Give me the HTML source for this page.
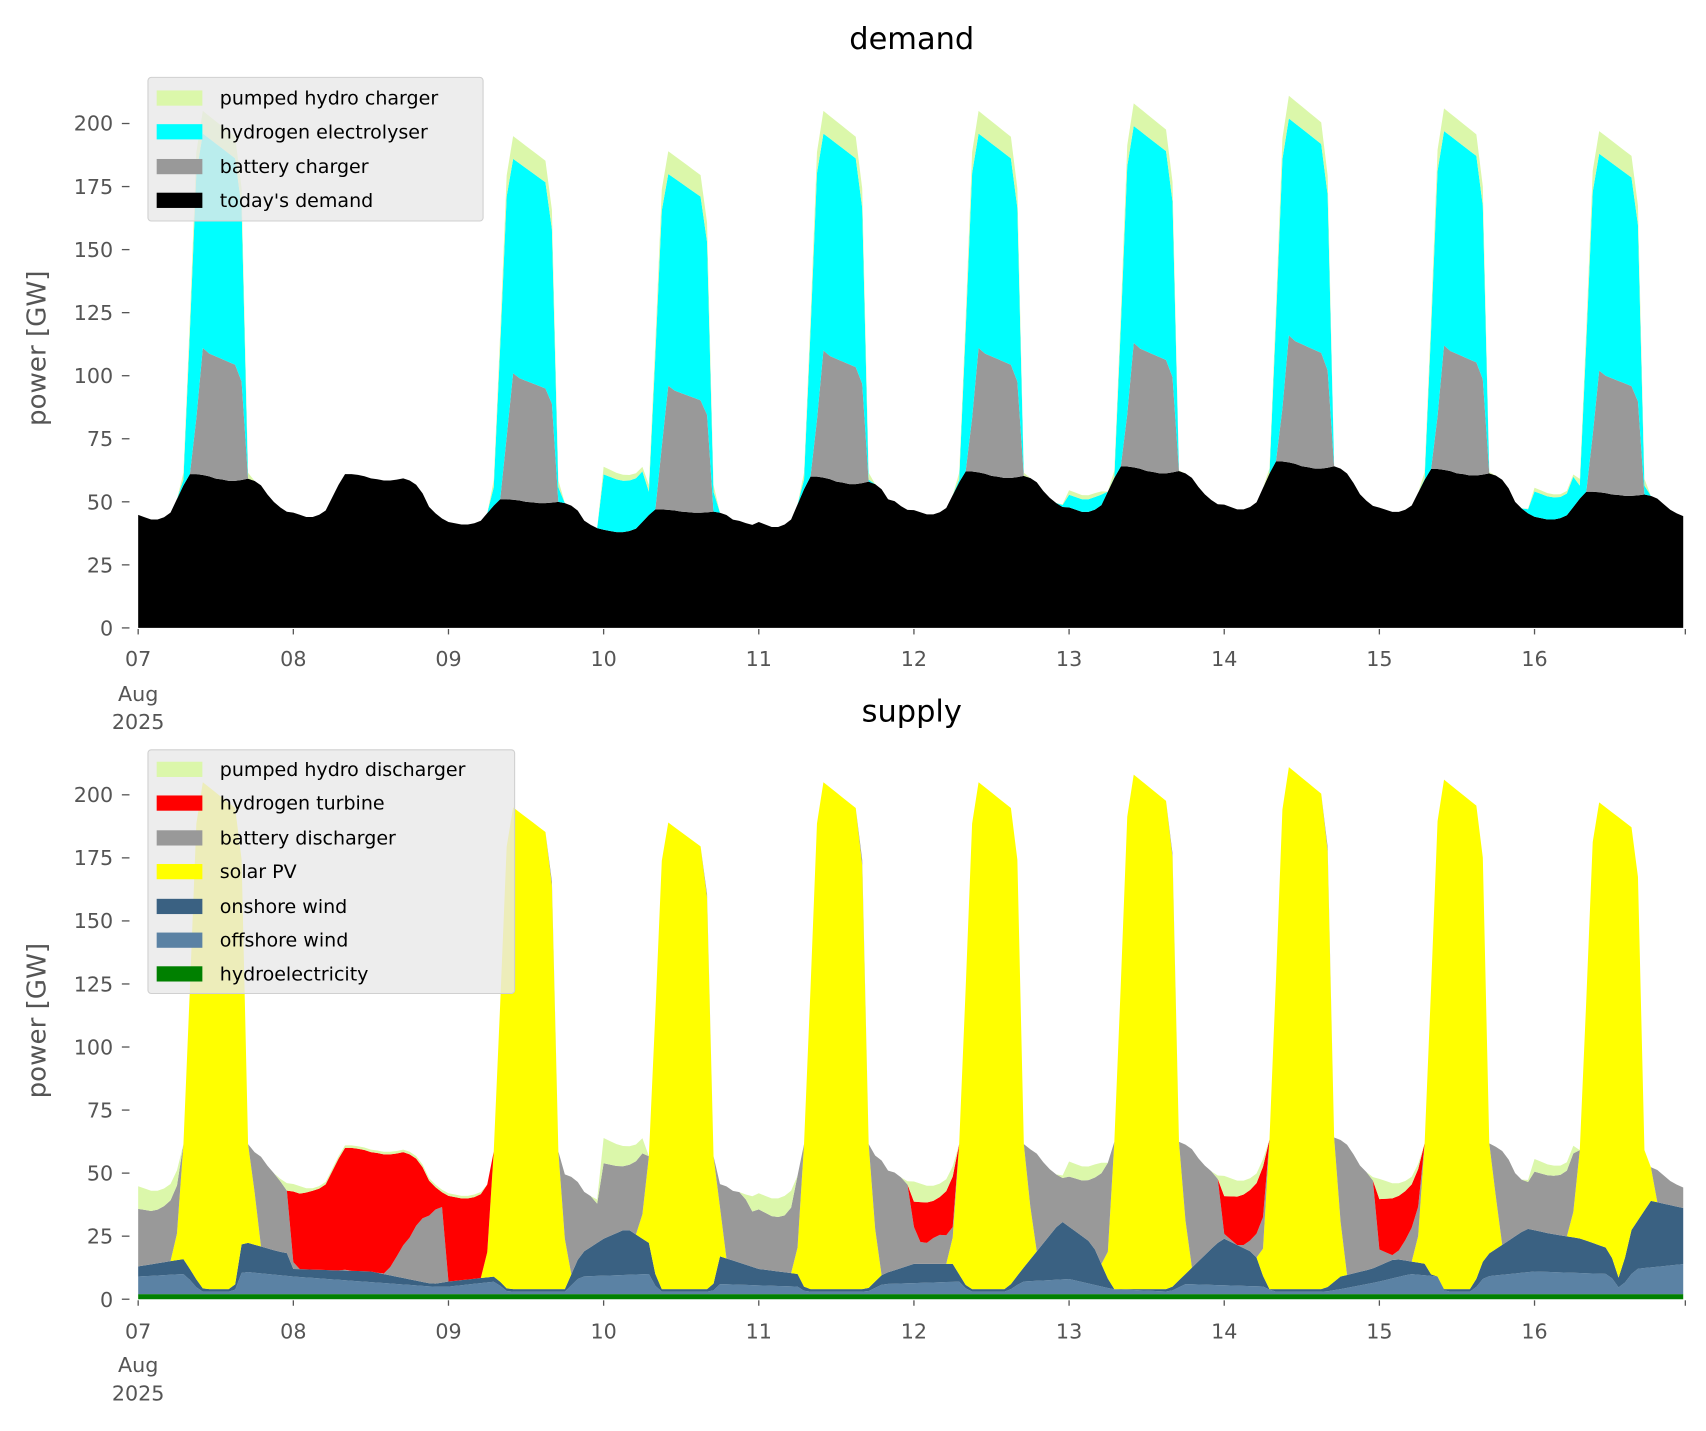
<!DOCTYPE html>
<html><head><meta charset="utf-8"><style>
html,body{margin:0;padding:0;background:#fff}
svg{display:block}
text{font-family:"DejaVu Sans","Liberation Sans",sans-serif}
.tk{fill:#555;font-size:19px}
.lg{fill:#000;font-size:17.5px}
</style></head><body>
<svg id="s" width="1706" height="1431" viewBox="0 0 1568 1315" xmlns="http://www.w3.org/2000/svg">
<g id="top"></g><g id="bot"></g>
<g id="ax"></g>
<text x="838" y="45" text-anchor="middle" font-size="28" fill="#000">demand</text>
<text x="838" y="663" text-anchor="middle" font-size="28" fill="#000">supply</text>
<text transform="translate(42,320) rotate(-90)" text-anchor="middle" font-size="24" fill="#555">power [GW]</text>
<text transform="translate(42,938) rotate(-90)" text-anchor="middle" font-size="24" fill="#555">power [GW]</text>
<!-- legend top -->
<rect x="136" y="71" width="308" height="132" rx="3" fill="rgba(232,232,232,0.8)" stroke="#d0d0d0"/>
<rect x="144" y="83" width="42" height="14" fill="#dbf7aa"/><text class="lg" x="202" y="96">pumped hydro charger</text>
<rect x="144" y="114" width="42" height="14" fill="#00ffff"/><text class="lg" x="202" y="127">hydrogen electrolyser</text>
<rect x="144" y="146" width="42" height="14" fill="#999"/><text class="lg" x="202" y="159">battery charger</text>
<rect x="144" y="177" width="42" height="14" fill="#000"/><text class="lg" x="202" y="190">today's demand</text>
<!-- legend bottom -->
<rect x="136" y="689" width="337" height="224" rx="3" fill="rgba(232,232,232,0.8)" stroke="#d0d0d0"/>
<rect x="144" y="700" width="42" height="14" fill="#dbf7aa"/><text class="lg" x="202" y="713">pumped hydro discharger</text>
<rect x="144" y="731" width="42" height="14" fill="#ff0000"/><text class="lg" x="202" y="744">hydrogen turbine</text>
<rect x="144" y="763" width="42" height="14" fill="#999"/><text class="lg" x="202" y="776">battery discharger</text>
<rect x="144" y="794" width="42" height="14" fill="#ffff00"/><text class="lg" x="202" y="807">solar PV</text>
<rect x="144" y="826" width="42" height="14" fill="#3a6182"/><text class="lg" x="202" y="839">onshore wind</text>
<rect x="144" y="857" width="42" height="14" fill="#5b82a4"/><text class="lg" x="202" y="870">offshore wind</text>
<rect x="144" y="888" width="42" height="14" fill="#008000"/><text class="lg" x="202" y="901">hydroelectricity</text>
<g id="lab">
<text class="tk" x="127" y="612" text-anchor="middle">07</text>
<text class="tk" x="127" y="644" text-anchor="middle">Aug</text>
<text class="tk" x="127" y="670" text-anchor="middle">2025</text>
<text class="tk" x="127" y="1230" text-anchor="middle">07</text>
<text class="tk" x="127" y="1261" text-anchor="middle">Aug</text>
<text class="tk" x="127" y="1287" text-anchor="middle">2025</text>
<text class="tk" x="269.6" y="612" text-anchor="middle">08</text><text class="tk" x="269.6" y="1230" text-anchor="middle">08</text>
<text class="tk" x="412.2" y="612" text-anchor="middle">09</text><text class="tk" x="412.2" y="1230" text-anchor="middle">09</text>
<text class="tk" x="554.8" y="612" text-anchor="middle">10</text><text class="tk" x="554.8" y="1230" text-anchor="middle">10</text>
<text class="tk" x="697.4" y="612" text-anchor="middle">11</text><text class="tk" x="697.4" y="1230" text-anchor="middle">11</text>
<text class="tk" x="840" y="612" text-anchor="middle">12</text><text class="tk" x="840" y="1230" text-anchor="middle">12</text>
<text class="tk" x="982.6" y="612" text-anchor="middle">13</text><text class="tk" x="982.6" y="1230" text-anchor="middle">13</text>
<text class="tk" x="1125.2" y="612" text-anchor="middle">14</text><text class="tk" x="1125.2" y="1230" text-anchor="middle">14</text>
<text class="tk" x="1267.8" y="612" text-anchor="middle">15</text><text class="tk" x="1267.8" y="1230" text-anchor="middle">15</text>
<text class="tk" x="1410.4" y="612" text-anchor="middle">16</text><text class="tk" x="1410.4" y="1230" text-anchor="middle">16</text>
<text class="tk" x="104" y="584" text-anchor="end">0</text><text class="tk" x="104" y="1201" text-anchor="end">0</text>
<text class="tk" x="104" y="526" text-anchor="end">25</text><text class="tk" x="104" y="1143" text-anchor="end">25</text>
<text class="tk" x="104" y="468" text-anchor="end">50</text><text class="tk" x="104" y="1085" text-anchor="end">50</text>
<text class="tk" x="104" y="410" text-anchor="end">75</text><text class="tk" x="104" y="1027" text-anchor="end">75</text>
<text class="tk" x="104" y="352" text-anchor="end">100</text><text class="tk" x="104" y="969" text-anchor="end">100</text>
<text class="tk" x="104" y="294" text-anchor="end">125</text><text class="tk" x="104" y="911" text-anchor="end">125</text>
<text class="tk" x="104" y="236" text-anchor="end">150</text><text class="tk" x="104" y="853" text-anchor="end">150</text>
<text class="tk" x="104" y="178" text-anchor="end">175</text><text class="tk" x="104" y="795" text-anchor="end">175</text>
<text class="tk" x="104" y="120" text-anchor="end">200</text><text class="tk" x="104" y="737" text-anchor="end">200</text>
</g>
</svg>
<script>
(function(){
var N=240, X0=127, DX=142.6/24, K=2.318;
function interp(pts,t){
  if(t<=pts[0][0])return pts[0][1];
  for(var i=1;i<pts.length;i++){if(t<=pts[i][0]){var a=pts[i-1],b=pts[i];return a[1]+(b[1]-a[1])*(t-a[0])/(b[0]-a[0]);}}
  return pts[pts.length-1][1];}
function rel(arr){return arr.map(function(p){return [p[0]-7,p[1]];});}
var g=[0.1,0.05,0,0,0.05,0.15,0.45,0.75,1,1,0.98,0.95,0.9,0.88,0.85,0.85,0.87,0.9,0.85,0.75,0.55,0.35,0.22,0.12];
var LM=[[43,61],[44,61],[41,51],[38,47],[40,60],[45,62],[46,64],[47,66],[46,63],[43,54]];
var PK=[205,0,195,189,205,205,208,211,206,197];
var BP=[111,0,101,96,110,111,113,116,112,102];
var e=[0,0,0,0,0,0,0,0.3,0.6,0.92,1,0.99,0.98,0.97,0.96,0.95,0.85,0.3,0,0,0,0,0,0];
var eb=[0,0,0,0,0,0,0,0,0.25,0.75,1,0.98,0.97,0.96,0.95,0.94,0.88,0,0,0,0,0,0,0];
var es=[0,0,0,0,0,0,0.05,0.3,0.65,0.95,1,1,1,1,1,0.98,0.8,0.35,0.1,0,0,0,0,0];
var E2=rel([[9.97,0],[10,22],[10.15,20],[10.25,20],[10.3,0],[12.95,0],[13,5],[13.2,5],[13.25,0],[15.95,0],[16,10],[16.2,8],[16.25,12],[16.3,0]]);
var ON=rel([[7,11],[7.2,13],[7.3,14],[7.35,8],[7.42,2],[7.62,2],[7.67,21],[7.9,17],[7.98,16],[8.0,10],[8.5,9],[8.9,4],[9,5],[9.3,7],[9.38,2],[9.75,2],[9.85,16],[10.0,22],[10.15,26],[10.3,20],[10.35,2],[10.7,2],[10.75,15],[11,10],[11.25,8],[11.3,2],[11.7,2],[11.8,8],[12,12],[12.25,12],[12.35,2],[12.6,2],[12.7,10],[12.95,29],[13.15,20],[13.28,2],[13.65,2],[13.75,8],[13.95,20],[14.0,22],[14.2,16],[14.28,2],[14.65,2],[14.75,7],[14.95,10],[15.1,14],[15.3,12],[15.38,2],[15.6,2],[15.68,15],[15.95,26],[16.1,24],[16.3,22],[16.48,18],[16.55,5],[16.62,25],[16.75,37],[16.97,34]]);
var OF=rel([[7,7],[7.3,8],[7.4,1],[7.62,1],[7.67,9],[8.0,7],[8.9,3],[9.0,3],[9.3,5],[9.38,1],[9.75,1],[9.85,7],[10.3,8],[10.35,1],[10.7,1],[10.75,4],[11.25,3],[11.3,1],[11.7,1],[11.8,4],[12.3,5],[12.35,1],[12.6,1],[12.7,5],[13,6],[13.28,2],[13.65,1],[13.75,4],[14.28,3],[14.3,1],[14.65,1],[14.75,2],[15,5],[15.2,8],[15.38,7],[15.42,1],[15.6,1],[15.68,7],[16,9],[16.48,8],[16.55,2],[16.65,10],[16.97,12]]);
var HY=rel([[7.97,0],[8.0,28],[8.2,45],[8.4,50],[8.6,47],[8.75,33],[8.9,10],[8.97,5],[9.0,35],[9.2,36],[9.27,30],[9.3,0],[11.98,0],[12.0,10],[12.05,17],[12.15,14],[12.25,20],[12.3,0],[13.98,0],[14.0,15],[14.1,20],[14.25,20],[14.3,0],[14.98,0],[15.0,20],[15.1,23],[15.25,15],[15.3,0]]);
var PH=rel([[7,9],[7.25,6],[7.3,0],[7.9,0],[7.95,3],[8.05,3],[8.1,1],[9.2,1],[9.25,0],[9.95,0],[10,10],[10.25,6],[10.3,0],[10.9,0],[10.95,6],[11.2,8],[11.25,0],[11.95,0],[12,8],[12.25,4],[12.3,0],[12.95,0],[13,6],[13.2,5],[13.25,0],[13.95,0],[14,8],[14.25,3],[14.3,0],[14.95,0],[15,8],[15.25,2],[15.3,0],[15.95,0],[16,5],[16.25,3],[16.3,0]]);
var D={bl:[],bt:[],et:[],T:[],h:[],of:[],on:[],so:[],ba:[],hy:[],ph:[]};
for(var i=0;i<N;i++){
  var d=Math.floor(i/24),h=i%24,t=i/24;
  var L=LM[d][0],M=LM[d][1];
  var bl=L+(M-L)*g[h];
  if(h>=21&&d<9){var Ln=LM[d+1][0];bl=Ln+(M-Ln)*g[h];}
  var bt=Math.max(bl,BP[d]*eb[h]);
  var et=Math.max(bt,(PK[d]-9)*e[h],bl+interp(E2,t));
  var T=Math.max(et,PK[d]*e[h]);
  if(T===et&&interp(E2,t)>0)T=et+interp(PH,t)*0.3;
  D.bl.push(bl);D.bt.push(bt);D.et.push(et);D.T.push(T);
  var hyd=2,of=interp(OF,t),on=Math.max(of,interp(ON,t));
  var base=hyd+on;
  var sp=PK[d]>0?PK[d]+5:0;
  var so=Math.max(0,Math.min(T-base,sp*es[h]));
  var rem=T-base-so;
  var ph=Math.min(rem,interp(PH,t));
  var hy=Math.min(rem-ph,interp(HY,t));
  var ba=Math.max(0,rem-ph-hy);
  var c=base+so;
  D.h.push(hyd);D.of.push(hyd+of);D.on.push(c-so);D.so.push(c);
  D.ba.push(c+ba);D.hy.push(c+ba+hy);D.ph.push(c+ba+hy+ph);
}
function xp(i){return X0+i*DX;}
function area(lo,hi,y0,col){
  var s="M"+xp(0)+","+(y0-(lo?lo[0]:0)*K);
  for(var i=0;i<N;i++)s+="L"+xp(i).toFixed(2)+","+(y0-hi[i]*K).toFixed(2);
  for(var i=N-1;i>=0;i--)s+="L"+xp(i).toFixed(2)+","+(y0-(lo?lo[i]:0)*K).toFixed(2);
  return '<path d="'+s+'Z" fill="'+col+'"/>';}
var top=document.getElementById("top"),bot=document.getElementById("bot");
var Y1=577,Y2=1194;
top.innerHTML=area(null,D.bl,Y1,"#000")+area(D.bl,D.bt,Y1,"#999")+area(D.bt,D.et,Y1,"#00ffff")+area(D.et,D.T,Y1,"#dbf7aa");
bot.innerHTML=area(null,D.h,Y2,"#008000")+area(D.h,D.of,Y2,"#5b82a4")+area(D.of,D.on,Y2,"#3a6182")+area(D.on,D.so,Y2,"#ffff00")+area(D.so,D.ba,Y2,"#999")+area(D.ba,D.hy,Y2,"#ff0000")+area(D.hy,D.ph,Y2,"#dbf7aa");
var ax="";
[Y1,Y2].forEach(function(y0){
  for(var k=0;k<=8;k++){var y=y0-k*25*K;ax+='<line x1="112" x2="119" y1="'+y+'" y2="'+y+'" stroke="#555" stroke-width="1.2"/>';}
  for(var k=0;k<=10;k++){var x=X0+k*142.6;if(k==10)x=1549;ax+='<line x1="'+x+'" x2="'+x+'" y1="'+(y0+1)+'" y2="'+(y0+6)+'" stroke="#555" stroke-width="1.2"/>';}
});
document.getElementById("ax").innerHTML=ax;
})();
</script>
</body></html>
